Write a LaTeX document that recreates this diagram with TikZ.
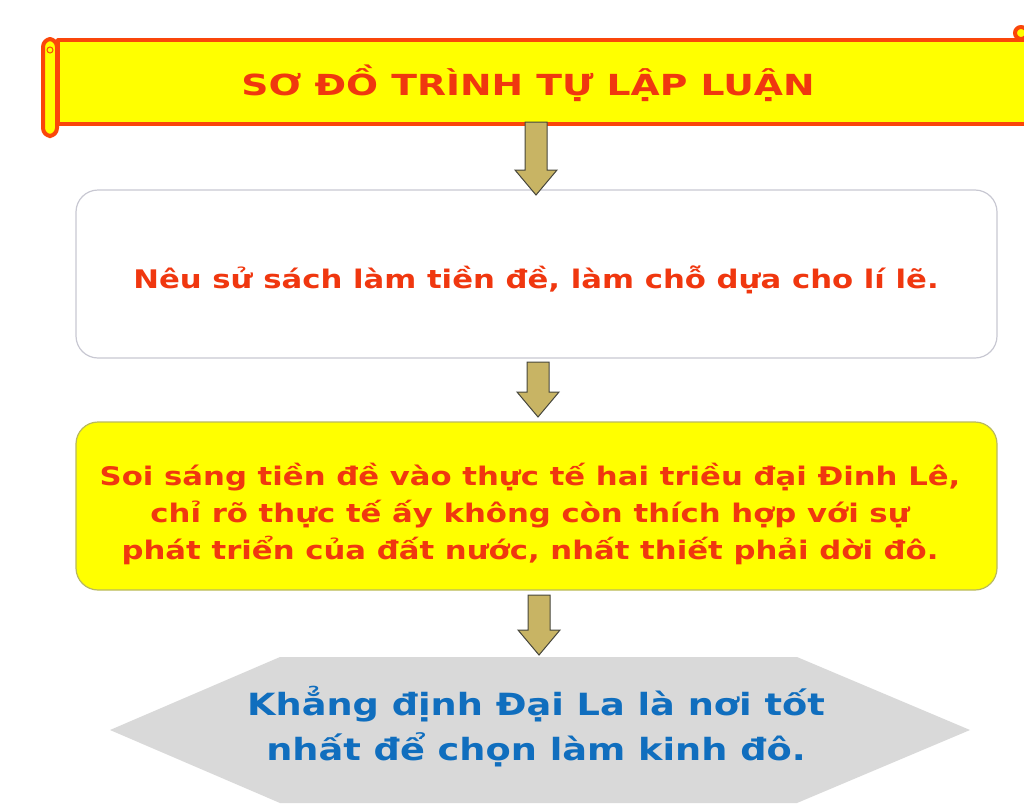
\documentclass[tikz,border=0pt]{standalone}
\usepackage{fontspec}
\setmainfont{DejaVu Sans}[FakeStretch=1.2]
\newfontfamily\titlefont{DejaVu Sans}[FakeStretch=1.3]
\usetikzlibrary{calc}
\definecolor{txtred}{RGB}{240,55,15}
\definecolor{bannerred}{RGB}{250,70,10}
\definecolor{ylw}{RGB}{255,255,0}
\definecolor{khaki}{RGB}{200,180,100}
\definecolor{arrowline}{RGB}{70,70,60}
\definecolor{boxgray}{RGB}{200,200,210}
\definecolor{boxolive}{RGB}{185,185,95}
\definecolor{hexgray}{RGB}{217,217,217}
\definecolor{txtblue}{RGB}{16,110,190}
\tikzset{
  banner/.style={draw=bannerred, line width=4pt, fill=ylw, line join=round},
  boxwhite/.style={draw=boxgray, line width=1.2pt, fill=white, rounded corners=22pt},
  boxyellow/.style={draw=boxolive, line width=1.2pt, fill=ylw, rounded corners=22pt},
  blockarrow/.style={draw=arrowline, line width=1pt, fill=khaki, line join=miter},
  redtext/.style={text=txtred, align=center},
  bluetext/.style={text=txtblue, align=center},
}
\newcommand{\downarrowat}[3]{% x, ytop, ytip
  \draw[blockarrow] (#1-11,#2) -- (#1+11,#2) -- (#1+11,#3-25) -- (#1+21,#3-25) -- (#1,#3) -- (#1-21,#3-25) -- (#1-11,#3-25) -- cycle;}
\begin{document}
\begin{tikzpicture}[x=1pt,y=-1pt]
\useasboundingbox (0,0) rectangle (1024,811);
% banner
\draw[banner] (1040,40) -- (58,40) -- (58,124) -- (1040,124);
\draw[banner] (1021,33) circle (6);
\draw[banner, rounded corners=8pt] (43,39) rectangle (57,136);
\draw[bannerred, line width=1pt] (50,50) circle (3);
\node[redtext, font=\titlefont\bfseries\fontsize{29}{36}\selectfont] (title) at (528,83) {SƠ ĐỒ TRÌNH TỰ LẬP LUẬN};
% box 1
\draw[boxwhite] (76,190) rectangle (997,358);
\node[redtext, font=\bfseries\fontsize{25.6}{32}\selectfont] (b1) at (536,280) {Nêu sử sách làm tiền đề, làm chỗ dựa cho lí lẽ.};
% box 2
\draw[boxyellow] (76,422) rectangle (997,590);
\node[redtext, font=\bfseries\fontsize{25.6}{37}\selectfont] (b2) at (530,514) {Soi sáng tiền đề vào thực tế hai triều đại Đinh Lê,\\chỉ rõ thực tế ấy không còn thích hợp với sự\\phát triển của đất nước, nhất thiết phải dời đô.};
% hexagon
\fill[hexgray] (110,730) -- (280,657) -- (797,657) -- (970,730) -- (797,803) -- (280,803) -- cycle;
\node[bluetext, font=\bfseries\fontsize{30.6}{45}\selectfont] (b3) at (536,727) {Khẳng định Đại La là nơi tốt\\nhất để chọn làm kinh đô.};
% arrows
\downarrowat{536}{122}{195}
\downarrowat{538}{362}{417}
\downarrowat{539}{595}{655}
\end{tikzpicture}
\end{document}
